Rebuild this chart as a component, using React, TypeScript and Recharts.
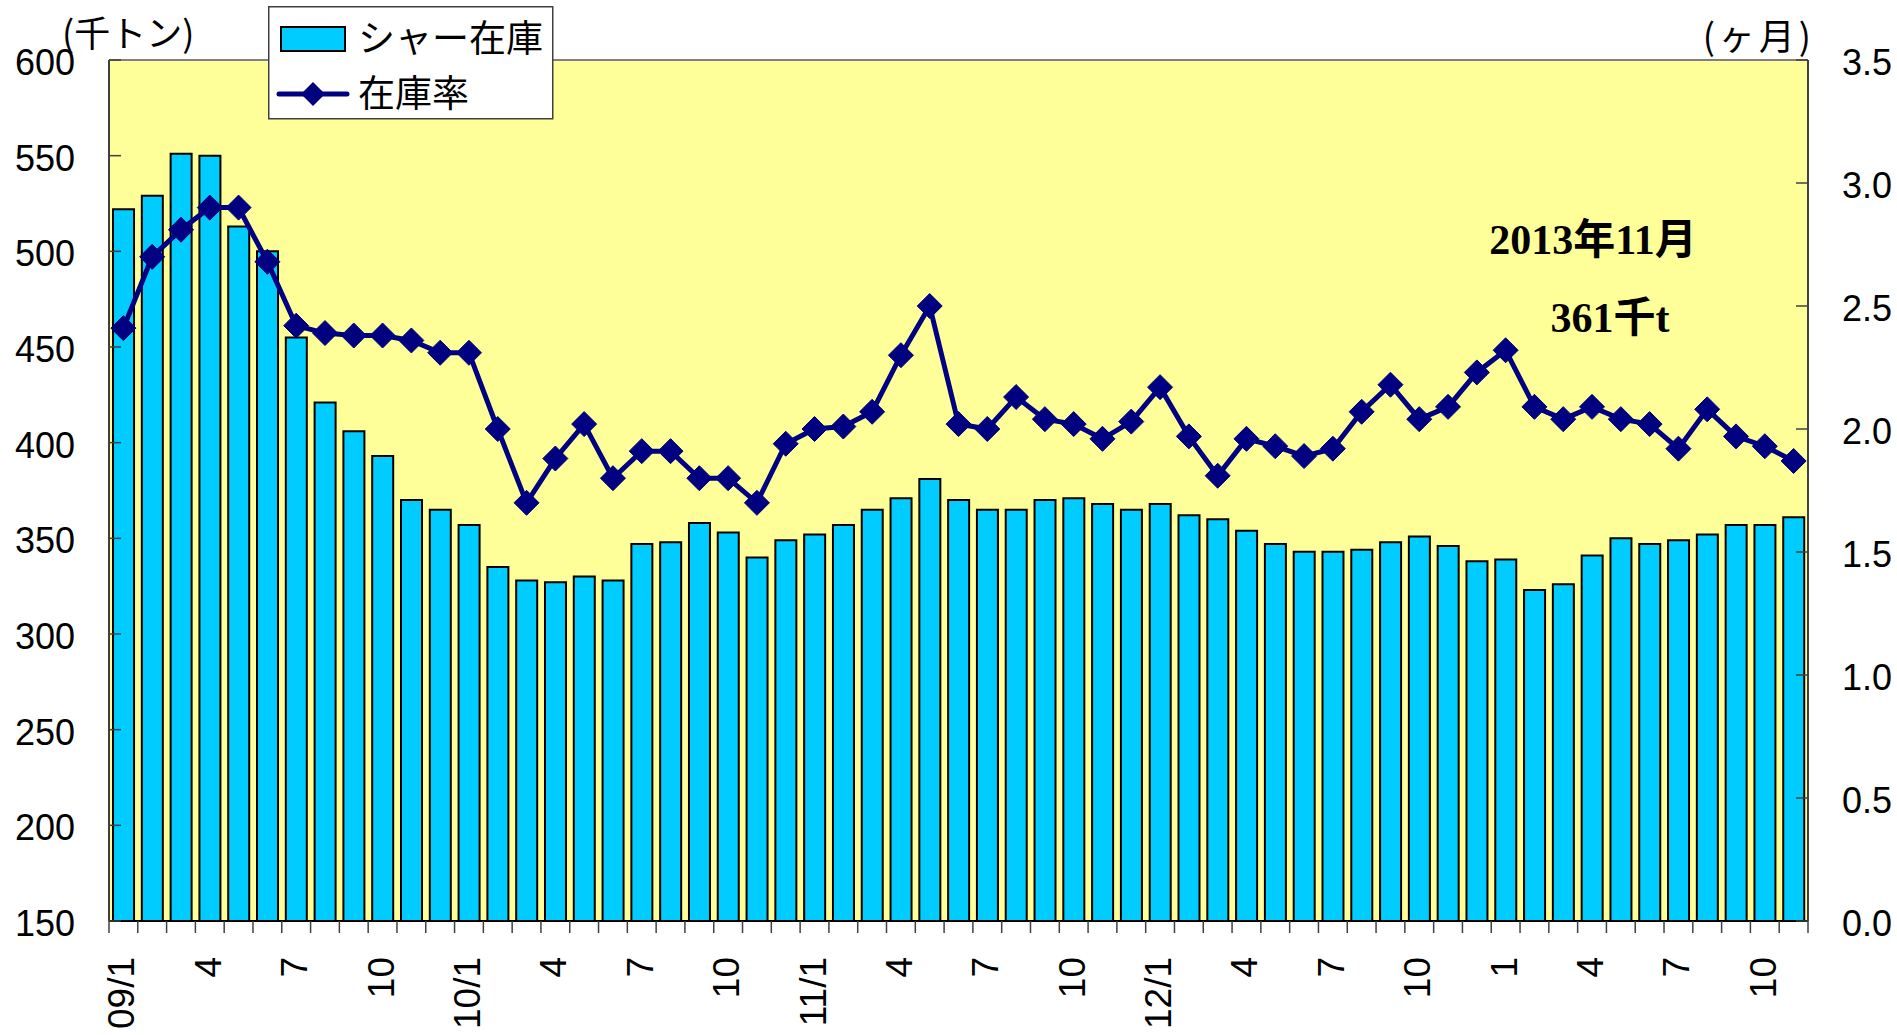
import React from 'react';
import {
  ComposedChart,
  Bar,
  Line,
  XAxis,
  YAxis,
  CartesianGrid,
  Legend,
  ReferenceLine,
  ReferenceDot,
} from 'recharts';

const categories = [
  '09/1', '09/2', '09/3', '09/4', '09/5', '09/6', '09/7', '09/8', '09/9', '09/10', '09/11', '09/12',
  '10/1', '10/2', '10/3', '10/4', '10/5', '10/6', '10/7', '10/8', '10/9', '10/10', '10/11', '10/12',
  '11/1', '11/2', '11/3', '11/4', '11/5', '11/6', '11/7', '11/8', '11/9', '11/10', '11/11', '11/12',
  '12/1', '12/2', '12/3', '12/4', '12/5', '12/6', '12/7', '12/8', '12/9', '12/10', '12/11', '12/12',
  '13/1', '13/2', '13/3', '13/4', '13/5', '13/6', '13/7', '13/8', '13/9', '13/10', '13/11',
];

const tickLabels = [
  '09/1', '', '', '4', '', '', '7', '', '', '10', '', '',
  '10/1', '', '', '4', '', '', '7', '', '', '10', '', '',
  '11/1', '', '', '4', '', '', '7', '', '', '10', '', '',
  '12/1', '', '', '4', '', '', '7', '', '', '10', '', '',
  '1', '', '', '4', '', '', '7', '', '', '10', '',
];

// シャー在庫 (千トン)
const stock = [
  522, 529, 551, 550, 513, 500, 455, 421, 406, 393, 370, 365,
  357, 335, 328, 327, 330, 328, 347, 348, 358, 353, 340, 349,
  352, 357, 365, 371, 381, 370, 365, 365, 370, 371, 368, 365,
  368, 362, 360, 354, 347, 343, 343, 344, 348, 351, 346, 338,
  339, 323, 326, 341, 350, 347, 349, 352, 357, 357, 361,
];

// 在庫率 (ヶ月)
const ratio = [
  2.41, 2.70, 2.81, 2.90, 2.90, 2.68, 2.42, 2.39, 2.38, 2.38, 2.36, 2.31,
  2.31, 2.00, 1.70, 1.88, 2.02, 1.80, 1.91, 1.91, 1.80, 1.80, 1.70, 1.94,
  2.00, 2.01, 2.07, 2.30, 2.50, 2.02, 2.00, 2.13, 2.04, 2.02, 1.96, 2.03,
  2.17, 1.97, 1.81, 1.96, 1.93, 1.89, 1.92, 2.07, 2.18, 2.04, 2.09, 2.23,
  2.32, 2.09, 2.04, 2.09, 2.04, 2.02, 1.92, 2.08, 1.97, 1.93, 1.87,
];

const leftTicks = [150, 200, 250, 300, 350, 400, 450, 500, 550, 600];
const rightTicks = [0, 0.5, 1.0, 1.5, 2.0, 2.5, 3.0, 3.5];

const annotationTitle = '2013年11月';
const annotationValue = '361千t';

const data = categories.map((c, i) => ({
  month: c,
  tick: tickLabels[i],
  stock: stock[i],
  ratio: ratio[i],
}));

const FONT = '"Liberation Sans", Arial, "Noto Sans CJK JP", sans-serif';
const JP_FONT = '"Noto Sans CJK JP", "Liberation Sans", sans-serif';
const SERIF = '"Liberation Serif", "Times New Roman", "Noto Sans CJK JP", serif';

const BAR_COLOR = '#00CCFF';
const LINE_COLOR = '#000080';
const AXIS_COLOR = '#404040';

const LeftTick = (props: any) => {
  const { x, y, payload } = props;
  return (
    <g>
      <line x1={x} x2={x + 12} y1={y} y2={y} stroke={AXIS_COLOR} strokeWidth={1.5} />
      <text x={x - 34} y={y} dy={15} textAnchor="end" fontSize={36} fontFamily={FONT} fill="#000">
        {payload.value}
      </text>
    </g>
  );
};

const RightTick = (props: any) => {
  const { x, y, payload } = props;
  return (
    <g>
      <line x1={x} x2={x - 12} y1={y} y2={y} stroke={AXIS_COLOR} strokeWidth={1.5} />
      <text x={x + 34} y={y} dy={15} textAnchor="start" fontSize={36} fontFamily={FONT} fill="#000">
        {Number(payload.value).toFixed(1)}
      </text>
    </g>
  );
};

const XTick = (props: any) => {
  const { x, y, payload, index } = props;
  const half = payload && typeof payload.offset === 'number' && payload.offset > 0 ? payload.offset : 14.4;
  const label = tickLabels[payload?.index ?? index] ?? '';
  const isLast = (payload?.index ?? index) === categories.length - 1;
  return (
    <g>
      <line x1={x - half} x2={x - half} y1={y} y2={y + 12} stroke={AXIS_COLOR} strokeWidth={1.5} />
      {isLast && (
        <line x1={x + half} x2={x + half} y1={y} y2={y + 12} stroke={AXIS_COLOR} strokeWidth={1.5} />
      )}
      {label && (
        <text
          x={x - 2}
          y={y + 36}
          dy={13}
          textAnchor="end"
          transform={`rotate(-90, ${x - 2}, ${y + 36})`}
          fontSize={37}
          fontFamily={FONT}
          fill="#000"
        >
          {label}
        </text>
      )}
    </g>
  );
};

const Diamond = (props: any) => {
  const { cx, cy } = props;
  if (cx == null || cy == null) return null;
  const r = 12.5;
  return (
    <polygon
      points={`${cx},${cy - r} ${cx + r},${cy} ${cx},${cy + r} ${cx - r},${cy}`}
      fill={LINE_COLOR}
      stroke={LINE_COLOR}
      strokeWidth={1}
    />
  );
};

const renderLegend = () => (
  <svg width={286} height={114} style={{ display: 'block' }}>
    <rect x={0.75} y={0.75} width={284} height={112} fill="#FFFFFF" stroke={AXIS_COLOR} strokeWidth={1.5} />
    <rect x={13} y={21} width={64} height={24} fill={BAR_COLOR} stroke="#000" strokeWidth={2} />
    <text x={90} y={46} fontSize={37} fontFamily={JP_FONT} fill="#000">
      シャー在庫
    </text>
    <line x1={11} x2={79} y1={88} y2={88} stroke={LINE_COLOR} strokeWidth={5} strokeLinecap="round" />
    <polygon points="45,76 57,88 45,100 33,88" fill={LINE_COLOR} />
    <text x={90} y={101} fontSize={37} fontFamily={JP_FONT} fill="#000">
      在庫率
    </text>
  </svg>
);

const annotationLabel = (text: string, dx: number) => (p: any) => {
  const vb = p.viewBox || {};
  const cx = (vb.x ?? 0) + (vb.width ?? 0) / 2 + dx;
  const cy = (vb.y ?? 0) + (vb.height ?? 0) / 2;
  return (
    <text
      x={cx}
      y={cy}
      dy={14}
      textAnchor="middle"
      fontSize={42}
      fontWeight="bold"
      fontFamily={SERIF}
      fill="#000"
    >
      {text}
    </text>
  );
};

export default function App() {
  return (
    <div style={{ position: 'absolute', left: 0, top: 0, width: 1897, height: 1035, background: '#fff' }}>
      <ComposedChart
        width={1897}
        height={1035}
        data={data}
        margin={{ top: 60, right: 0, bottom: 0, left: 0 }}
        barCategoryGap="14%"
      >
        <CartesianGrid horizontal={false} vertical={false} fill="#FFFF99" fillOpacity={1} />
        <XAxis
          dataKey="month"
          type="category"
          interval={0}
          height={114}
          tickSize={0}
          tickMargin={0}
          tick={<XTick />}
          axisLine={{ stroke: '#000', strokeWidth: 2 }}
          tickLine={false}
        />
        <YAxis
          yAxisId="left"
          orientation="left"
          width={109}
          domain={[150, 600]}
          ticks={leftTicks}
          allowDataOverflow
          tickSize={0}
          tickMargin={0}
          tick={<LeftTick />}
          tickLine={false}
          axisLine={{ stroke: AXIS_COLOR, strokeWidth: 2 }}
          label={{
            content: (p: any) => {
              const vb = p.viewBox || { x: 0, y: 60 };
              return (
                <text x={vb.x + 62} y={vb.y - 13} fontSize={36} fontFamily={JP_FONT} fill="#000">
                  (千トン)
                </text>
              );
            },
          }}
        />
        <YAxis
          yAxisId="right"
          orientation="right"
          width={89}
          domain={[0, 3.5]}
          ticks={rightTicks}
          allowDataOverflow
          tickSize={0}
          tickMargin={0}
          tick={<RightTick />}
          tickLine={false}
          axisLine={{ stroke: AXIS_COLOR, strokeWidth: 2 }}
          label={{
            content: (p: any) => {
              const vb = p.viewBox || { x: 1808, y: 60 };
              return (
                <text
                  x={vb.x + 7}
                  y={vb.y - 10}
                  textAnchor="end"
                  fontSize={36}
                  letterSpacing={4}
                  fontFamily={JP_FONT}
                  fill="#000"
                >
                  (ヶ月)
                </text>
              );
            },
          }}
        />
        <ReferenceLine yAxisId="left" y={600} stroke="#808080" strokeWidth={2} />
        <Legend
          layout="horizontal"
          verticalAlign="middle"
          align="center"
          content={renderLegend}
          wrapperStyle={{ left: 268, top: 6, width: 286, height: 114 }}
        />
        <Bar
          yAxisId="left"
          dataKey="stock"
          name="シャー在庫"
          fill={BAR_COLOR}
          stroke="#000"
          strokeWidth={2}
          isAnimationActive={false}
        />
        <Line
          yAxisId="right"
          dataKey="ratio"
          name="在庫率"
          stroke={LINE_COLOR}
          strokeWidth={5}
          dot={<Diamond />}
          activeDot={false}
          isAnimationActive={false}
          type="linear"
        />
        <ReferenceDot
          yAxisId="right"
          x="13/4"
          y={2.77}
          r={0}
          fill="none"
          stroke="none"
          label={{ content: annotationLabel(annotationTitle, 1) }}
        />
        <ReferenceDot
          yAxisId="right"
          x="13/4"
          y={2.45}
          r={0}
          fill="none"
          stroke="none"
          label={{ content: annotationLabel(annotationValue, 18) }}
        />
      </ComposedChart>
    </div>
  );
}
